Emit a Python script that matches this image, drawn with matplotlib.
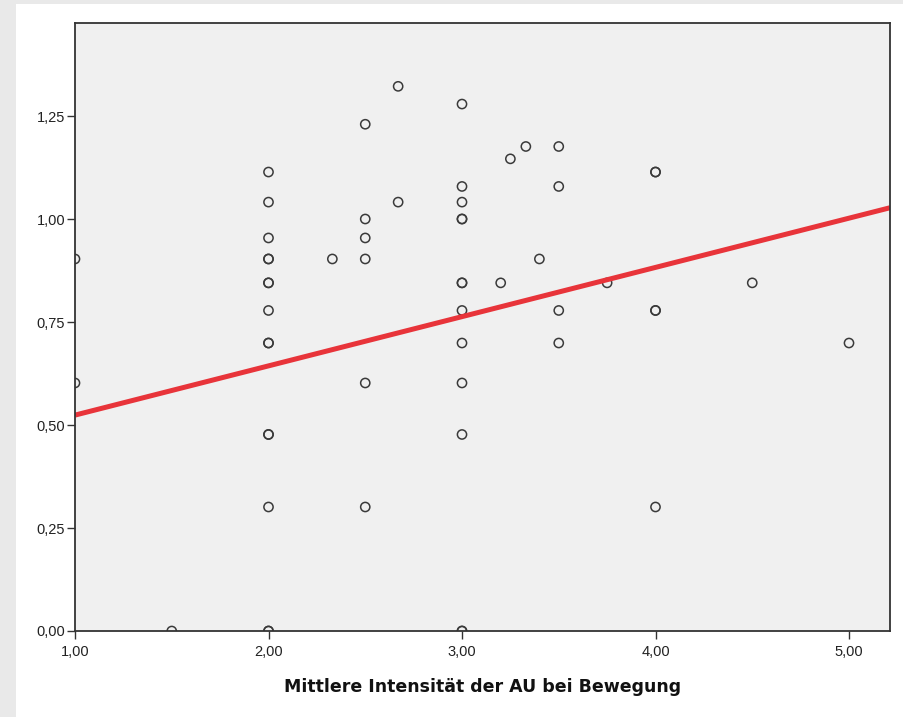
import matplotlib
matplotlib.use("Agg")
import matplotlib.pyplot as plt
from matplotlib.patches import Rectangle
import numpy as np

# data (x = Mittlere Intensität der AU bei Bewegung, y values)
x_vals = [1.00, 1.00, 1.50,
          2.00, 2.00, 2.00, 2.00, 2.00, 2.00, 2.00, 2.00, 2.00, 2.00, 2.00, 2.00, 2.00, 2.00, 2.00,
          2.33,
          2.50, 2.50, 2.50, 2.50, 2.50, 2.50,
          2.67, 2.67,
          3.00, 3.00, 3.00, 3.00, 3.00, 3.00, 3.00, 3.00, 3.00, 3.00, 3.00, 3.00, 3.00,
          3.20, 3.25, 3.33, 3.40,
          3.50, 3.50, 3.50, 3.50,
          3.75,
          4.00, 4.00, 4.00, 4.00, 4.00,
          4.50, 5.00]
y_vals = [0.903, 0.602, 0.000,
          1.114, 1.041, 0.954, 0.903, 0.903, 0.845, 0.845, 0.778, 0.699, 0.699, 0.477, 0.477, 0.301, 0.000, 0.000,
          0.903,
          1.230, 1.000, 0.954, 0.903, 0.602, 0.301,
          1.322, 1.041,
          1.279, 1.079, 1.041, 1.000, 1.000, 0.845, 0.845, 0.778, 0.699, 0.602, 0.477, 0.000, 0.000,
          0.845, 1.146, 1.176, 0.903,
          1.176, 1.079, 0.778, 0.699,
          0.845,
          1.114, 1.114, 0.778, 0.778, 0.301,
          0.845, 0.699]

fit_intercept = 0.4045
fit_slope = 0.1195

x_ticks = [1, 2, 3, 4, 5]
x_ticklabels = ["1,00", "2,00", "3,00", "4,00", "5,00"]
y_ticks = [0, 0.25, 0.5, 0.75, 1.0, 1.25]
y_ticklabels = ["0,00", "0,25", "0,50", "0,75", "1,00", "1,25"]
x_label = "Mittlere Intensität der AU bei Bewegung"

W, H = 904, 717
fig = plt.figure(figsize=(W / 100, H / 100), dpi=100)
fig.patch.set_facecolor("#e9e9e9")
bg = Rectangle((16 / W, 0), 1 - 16 / W, 1 - 4 / H, transform=fig.transFigure,
               facecolor="white", edgecolor="none", zorder=-10)
fig.patches.append(bg)

left, right, top, bottom = 75, 890, 23, 631
ax = fig.add_axes([left / W, 1 - bottom / H, (right - left) / W, (bottom - top) / H])
ax.set_zorder(1)
ax.set_facecolor("#f0f0f0")

xmin, xmax = 1.0, 1.0 + (right - left) / 193.5
ymin, ymax = 0.0, (bottom - top) / 412.0
ax.set_xlim(xmin, xmax)
ax.set_ylim(ymin, ymax)

ax.scatter(x_vals, y_vals, s=44, facecolors="none", edgecolors="#3a3a3a",
           linewidths=1.1, zorder=3, clip_on=True)

xx = np.array([xmin, xmax])
ax.plot(xx, fit_intercept + fit_slope * xx, color="#e8343a", linewidth=3.6,
        zorder=4, solid_capstyle="butt")

for s in ax.spines.values():
    s.set_color("#333333")
    s.set_linewidth(1.3)
    s.set_zorder(5)

ax.set_xticks(x_ticks)
ax.set_xticklabels(x_ticklabels)
ax.set_yticks(y_ticks)
ax.set_yticklabels(y_ticklabels)
ax.tick_params(direction="out", length=6, width=1.0, color="#333333",
               labelsize=10.5, labelcolor="#222222")
ax.tick_params(axis="x", pad=4)
ax.tick_params(axis="y", pad=1)
for lab in ax.get_xticklabels() + ax.get_yticklabels():
    lab.set_family("Liberation Sans")

ax.set_xlabel(x_label, fontsize=12.5, fontweight="bold", family="DejaVu Sans",
              color="#111111", labelpad=14)

fig.savefig("out.png", dpi=100, facecolor=fig.get_facecolor())
